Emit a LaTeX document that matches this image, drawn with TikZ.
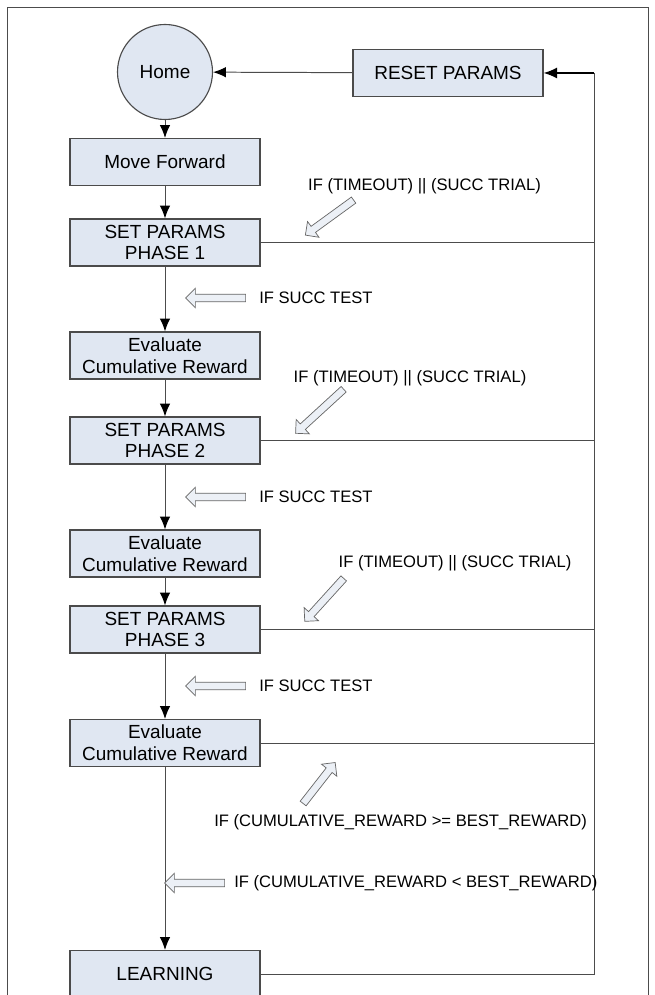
\documentclass[tikz,border=0pt]{standalone}
\usepackage{fontspec}
\setmainfont{Liberation Sans}
\usetikzlibrary{calc,shapes,arrows.meta}

\definecolor{boxfill}{RGB}{224,231,242}
\definecolor{boxline}{RGB}{75,75,75}
\definecolor{hollowfill}{RGB}{236,240,246}

\begin{document}
\begin{tikzpicture}[
    stepbox/.style={draw=boxline, fill=boxfill, line width=0.8pt, minimum width=4.75cm,
        minimum height=1.175cm, align=center, inner sep=0pt,
        font=\fontsize{13.5}{15.6}\selectfont},
    homenode/.style={circle, draw=boxline, fill=boxfill, line width=0.8pt,
        minimum size=2.375cm, font=\fontsize{13.5}{15.6}\selectfont},
    conn/.style={draw=black!70, line width=0.7pt},
    flow/.style={conn, -{Latex[length=3.2mm,width=2.6mm,color=black]}},
    hollow/.style={single arrow, draw=black!60, fill=hollowfill, line width=0.5pt,
        inner sep=0.085cm, single arrow head extend=0.15cm, minimum height=1.5cm},
    cond/.style={font=\fontsize{11.8}{14}\selectfont, inner sep=0pt}
]
    \useasboundingbox (0,0) rectangle (16.375,24.875);
    \clip (0,0) rectangle (16.375,24.875);
    \fill[white] (0,0) rectangle (16.375,24.875);
    % frame
    \draw[black!70, line width=0.6pt] (0.175,-0.5) -- (0.175,24.7) -- (16.2,24.7) -- (16.2,-0.5);

    % states
    \node[homenode] (home) at (4.125,23.075) {Home};
    \node[stepbox] (reset) at (11.2,23.05) {RESET PARAMS};
    \node[stepbox] (move) at (4.125,20.825) {Move Forward};
    \node[stepbox] (set1) at (4.125,18.8125) {SET PARAMS\\PHASE 1};
    \node[stepbox] (eval1) at (4.125,15.9875) {Evaluate\\Cumulative Reward};
    \node[stepbox] (set2) at (4.125,13.8625) {SET PARAMS\\PHASE 2};
    \node[stepbox] (eval2) at (4.125,11.0375) {Evaluate\\Cumulative Reward};
    \node[stepbox] (set3) at (4.125,9.1375) {SET PARAMS\\PHASE 3};
    \node[stepbox] (eval3) at (4.125,6.3) {Evaluate\\Cumulative Reward};
    \node[stepbox] (learn) at (4.125,0.525) {LEARNING};
    \coordinate (rtop) at (14.85,23.05);

    % main chain
    \draw[flow] (home) -- (move);
    \draw[flow] (move) -- (set1);
    \draw[flow] (set1) -- (eval1);
    \draw[flow] (eval1) -- (set2);
    \draw[flow] (set2) -- (eval2);
    \draw[flow] (eval2) -- (set3);
    \draw[flow] (set3) -- (eval3);
    \draw[flow] (eval3) -- (learn);
    \draw[flow] (reset) -- (home);

    % back to reset
    \draw[conn] (set1.east) -- (set1.east -| rtop);
    \draw[conn] (set2.east) -- (set2.east -| rtop);
    \draw[conn] (set3.east) -- (set3.east -| rtop);
    \draw[conn] (eval3.east) -- (eval3.east -| rtop);
    \draw[conn] (learn.east) -| (rtop);
    \draw[-{Latex[length=3.4mm,width=2.8mm]}, black, line width=1.1pt] (rtop) -- (reset.east);

    % conditions
    \node[hollow, rotate=216, minimum height=1.49cm] (trial1) at (8.275,19.4625) {};
    \node[cond] (trialtxt1) at (10.6125,20.225) {IF (TIMEOUT) || (SUCC TRIAL)};
    \node[hollow, rotate=180] (succ1) at (5.4375,17.425) {};
    \node[cond, anchor=west] (succtxt1) at (6.475,17.425) {IF SUCC TEST};

    \node[hollow, rotate=222.5, minimum height=1.63cm] (trial2) at (8.025,14.625) {};
    \node[cond] (trialtxt2) at (10.25,15.425) {IF (TIMEOUT) || (SUCC TRIAL)};
    \node[hollow, rotate=180] (succ2) at (5.4375,12.45) {};
    \node[cond, anchor=west] (succtxt2) at (6.475,12.45) {IF SUCC TEST};

    \node[hollow, rotate=227.8, minimum height=1.45cm] (trial3) at (8.1375,9.9125) {};
    \node[cond] (trialtxt3) at (11.375,10.8) {IF (TIMEOUT) || (SUCC TRIAL)};
    \node[hollow, rotate=180] (succ3) at (5.4375,7.725) {};
    \node[cond, anchor=west] (succtxt3) at (6.475,7.725) {IF SUCC TEST};

    \node[hollow, rotate=52, minimum height=1.3cm] (best) at (7.95,5.2625) {};
    \node[cond, anchor=west] (besttxt) at (5.35,4.325) {IF (CUMULATIVE\_REWARD >= BEST\_REWARD)};
    \node[hollow, rotate=180] (worse) at (4.9125,2.8) {};
    \node[cond, anchor=west] (worsetxt) at (5.85,2.8) {IF (CUMULATIVE\_REWARD < BEST\_REWARD)};
\end{tikzpicture}
\end{document}
